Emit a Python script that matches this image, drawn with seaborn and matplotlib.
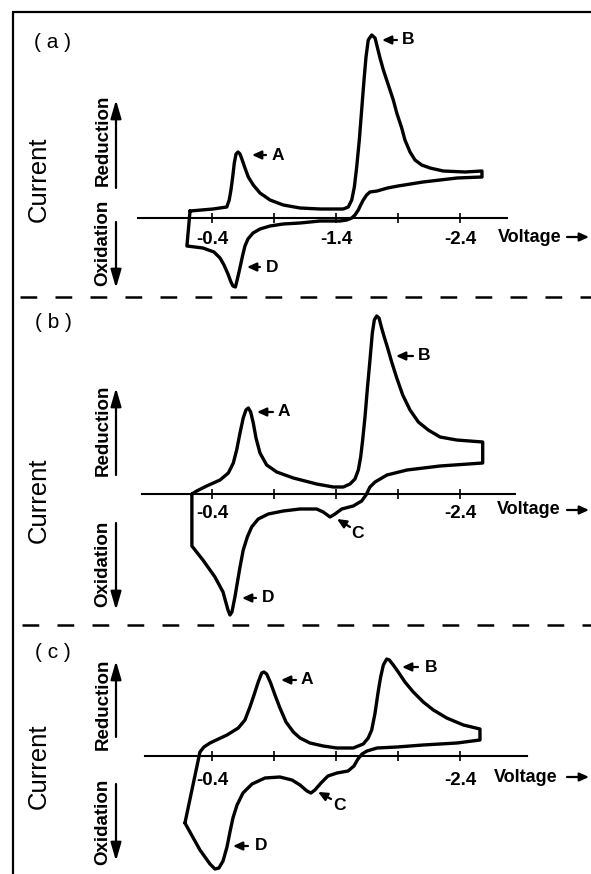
import matplotlib
matplotlib.use("Agg")
import matplotlib.pyplot as plt
import seaborn as sns
from matplotlib.transforms import Affine2D
from matplotlib.lines import Line2D
from matplotlib.text import Annotation

# ---------------- data: cyclic voltammograms (V vs. ref, arbitrary current) ----------------
# each loop: forward (reduction) scan toward negative potential, then the return scan
volt_a = [-0.223, -0.408, -0.519, -0.539, -0.553, -0.567, -0.580, -0.594, -0.610, -0.626,
          -0.644, -0.666, -0.693, -0.733, -0.787, -0.868, -0.975, -1.110, -1.271, -1.432,
          -1.459, -1.499, -1.527, -1.548, -1.567, -1.588, -1.607, -1.626, -1.642, -1.660,
          -1.688, -1.715, -1.733, -1.755, -1.782, -1.822, -1.862, -1.890, -1.930, -1.956,
          -1.997, -2.037, -2.091, -2.158, -2.265, -2.440, -2.577,
          -2.577, -2.376, -2.102, -1.900, -1.815, -1.732, -1.674, -1.647, -1.620, -1.599,
          -1.580, -1.553, -1.527, -1.487, -1.432, -1.271, -1.110, -0.973, -0.868, -0.787,
          -0.731, -0.690, -0.666, -0.650, -0.634, -0.618, -0.601, -0.589, -0.569, -0.553,
          -0.529, -0.497, -0.465, -0.416, -0.327, -0.198, -0.223]
curr_a = [0.7, 0.9, 1.1, 1.8, 2.8, 4.1, 5.5, 6.4, 6.6, 6.4,
          5.8, 5.0, 4.1, 3.3, 2.5, 1.8, 1.3, 1.0, 0.9, 0.9,
          0.9, 1.1, 1.8, 3.1, 5.1, 7.8, 10.8, 13.8, 16.1, 17.8,
          18.3, 18.0, 17.1, 16.0, 14.8, 13.3, 11.8, 10.5, 9.0, 7.8,
          6.6, 5.8, 5.3, 5.0, 4.7, 4.6, 4.7,
          4.1, 4.0, 3.6, 3.2, 3.0, 2.7, 2.6, 2.3, 1.8, 1.3,
          0.8, 0.3, -0.0, -0.2, -0.3, -0.3, -0.5, -0.6, -0.8, -1.1,
          -1.5, -2.1, -2.8, -3.6, -4.5, -5.4, -6.3, -6.9, -6.8, -6.4,
          -5.6, -4.7, -4.0, -3.4, -3.0, -2.8, 0.7]

volt_b = [-0.238, -0.277, -0.357, -0.465, -0.532, -0.572, -0.599, -0.626, -0.652, -0.674,
          -0.693, -0.712, -0.733, -0.755, -0.787, -0.841, -0.922, -1.056, -1.244, -1.378,
          -1.459, -1.513, -1.553, -1.580, -1.599, -1.615, -1.634, -1.652, -1.674, -1.693,
          -1.709, -1.728, -1.747, -1.768, -1.789, -1.814, -1.849, -1.890, -1.938, -1.997,
          -2.064, -2.144, -2.239, -2.373, -2.583,
          -2.583, -2.239, -1.973, -1.811, -1.715, -1.674, -1.642, -1.607, -1.539, -1.446,
          -1.392, -1.352, -1.297, -1.244, -1.110, -0.975, -0.854, -0.773, -0.720, -0.685,
          -0.652, -0.626, -0.604, -0.585, -0.561, -0.545, -0.529, -0.489, -0.424, -0.327,
          -0.238, -0.238]
curr_b = [0.0, 0.3, 0.8, 1.4, 2.1, 3.1, 4.4, 6.1, 7.6, 8.4,
          8.6, 8.2, 7.1, 5.6, 4.1, 2.9, 2.2, 1.6, 1.0, 0.7,
          0.7, 1.0, 1.5, 2.4, 3.7, 5.4, 7.7, 10.4, 13.4, 16.1,
          17.4, 17.8, 17.6, 16.6, 15.7, 14.7, 13.2, 11.6, 9.9, 8.4,
          7.2, 6.4, 5.7, 5.4, 5.2,
          3.1, 2.8, 2.4, 1.9, 1.2, 0.7, -0.1, -0.7, -1.2, -1.5,
          -2.0, -2.3, -1.8, -1.5, -1.5, -1.7, -2.0, -2.5, -3.3, -4.3,
          -5.6, -7.3, -8.9, -10.3, -11.8, -12.1, -11.6, -9.8, -8.3, -6.6,
          -5.2, 0.0]

volt_c = [-0.182, -0.303, -0.335, -0.384, -0.521, -0.612, -0.666, -0.706, -0.739, -0.773,
          -0.801, -0.819, -0.841, -0.873, -0.908, -0.948, -0.997, -1.056, -1.110, -1.190,
          -1.297, -1.406, -1.539, -1.620, -1.660, -1.688, -1.715, -1.741, -1.760, -1.782,
          -1.809, -1.830, -1.862, -1.902, -1.956, -2.023, -2.104, -2.185, -2.293, -2.427,
          -2.561,
          -2.561, -2.376, -2.102, -1.892, -1.731, -1.650, -1.610, -1.577, -1.545, -1.497,
          -1.408, -1.335, -1.279, -1.230, -1.198, -1.166, -1.110, -1.045, -0.948, -0.827,
          -0.723, -0.650, -0.602, -0.569, -0.545, -0.521, -0.489, -0.456, -0.424, -0.384,
          -0.303, -0.182]
curr_c = [-6.7, 0.4, 0.9, 1.3, 2.1, 2.8, 3.6, 4.9, 6.1, 7.4,
          8.3, 8.4, 8.2, 7.3, 6.1, 4.8, 3.4, 2.4, 1.8, 1.3,
          1.0, 0.8, 0.8, 1.2, 1.8, 2.6, 4.3, 6.5, 7.9, 9.1,
          9.7, 9.6, 9.1, 8.4, 7.4, 6.4, 5.4, 4.6, 3.8, 3.1,
          2.7,
          1.6, 1.3, 1.1, 0.9, 0.8, 0.5, 0.2, -0.3, -1.0, -1.5,
          -1.7, -2.0, -2.7, -3.4, -3.7, -3.5, -2.9, -2.4, -2.1, -2.2,
          -2.8, -3.7, -4.9, -6.2, -7.6, -9.1, -10.5, -11.2, -11.3, -10.8,
          -9.4, -6.7]

# voltage axis ticks
major_ticks = [-0.4, -1.4, -2.4]
minor_ticks = [-0.9, -1.9]
labels_a = ["-0.4", "-1.4", "-2.4"]
labels_bc = ["-0.4", "", "-2.4"]

panel_names = ["( a )", "( b )", "( c )"]

# ---------------- style ----------------
sns.set_style("white")
plt.rcParams["font.family"] = ["Liberation Sans", "DejaVu Sans"]
plt.rcParams["axes.unicode_minus"] = False
plt.rcParams["text.color"] = "black"

W, H = 591, 874
fig = plt.figure(figsize=(W / 100, H / 100), dpi=100)
fig.patch.set_facecolor("white")
# pixel coordinates on the sheet, origin at the top-left corner
P = Affine2D().scale(1 / W, -1 / H).translate(0, 1) + fig.transFigure

AX_L, AX_R = 130, 540
XLIM = (0.261, -3.045)
SCALE = 10.0  # pixels per current unit

panels = [
    dict(V=volt_a, I=curr_a, top=20, bottom=295, base=218, span=(-2.779, 0.197),
         labels=labels_a, pad=6.0),
    dict(V=volt_b, I=curr_b, top=300, bottom=622, base=494, span=(-2.843, 0.165),
         labels=labels_bc, pad=4.5),
    dict(V=volt_c, I=curr_c, top=630, bottom=874, base=756, span=(-2.940, 0.140),
         labels=labels_bc, pad=8.0),
]

for p in panels:
    ax = fig.add_axes([AX_L / W, 1 - p["bottom"] / H, (AX_R - AX_L) / W,
                       (p["bottom"] - p["top"]) / H])
    ax.patch.set_alpha(0)
    sns.lineplot(x=p["V"], y=p["I"], sort=False, estimator=None, color="black",
                 linewidth=2.4, ax=ax, solid_joinstyle="round", solid_capstyle="round")
    ax.set_xlim(*XLIM)
    ax.set_ylim((p["base"] - p["bottom"]) / SCALE, (p["base"] - p["top"]) / SCALE)
    for side in ("top", "left", "right"):
        ax.spines[side].set_visible(False)
    sp = ax.spines["bottom"]
    sp.set_visible(True)
    sp.set_position(("data", 0))
    sp.set_bounds(*p["span"])
    sp.set_linewidth(1.5)
    sp.set_color("black")
    ax.set_xticks(major_ticks)
    ax.set_xticklabels(p["labels"])
    ax.set_xticks(minor_ticks, minor=True)
    ax.tick_params(axis="x", which="both", bottom=True, direction="inout", length=7,
                   width=1.2, colors="black", pad=p["pad"], labelsize=13.5)
    for t in ax.get_xticklabels():
        t.set_fontweight("bold")
    ax.set_yticks([])
    ax.set_xlabel("")
    ax.set_ylabel("")

# ---------------- sheet decorations ----------------
fig.add_artist(Line2D([13, W], [12, 12], transform=P, color="black", lw=1.6))
fig.add_artist(Line2D([13, 13], [12, H], transform=P, color="black", lw=1.6))
for yy, x0 in ((297, 20), (625, 22)):
    fig.add_artist(Line2D([x0, W], [yy, yy], transform=P, color="black", lw=1.8,
                          dashes=(6.7, 7.3)))

head_small = dict(arrowstyle="-|>,head_length=0.55,head_width=0.25", color="black",
                  lw=1.6, shrinkA=0, shrinkB=0)
head_big = dict(arrowstyle="-|>,head_length=0.55,head_width=0.16", color="black",
                lw=1.6, shrinkA=0, shrinkB=0, mutation_scale=20)

# per-panel text: panel tag, side labels, axis title
tag_y = [43, 323, 652]
current_y = [179, 500, 766]
red_y = [140, 430, 704]
red_arrow = [(188, 100), (475, 388), (737, 661)]
ox_y = [243, 564, 822]
ox_arrow = [(222, 288), (523, 610), (784, 861)]
volt_y = [237, 510, 777]
volt_x = [498, 497, 494]

for i in range(3):
    fig.text(53, tag_y[i], panel_names[i], transform=P, fontsize=15, ha="center",
             va="center")
    fig.text(39, current_y[i], "Current", transform=P, fontsize=18.5, rotation=90,
             ha="center", va="center")
    fig.text(103, red_y[i], "Reduction", transform=P, fontsize=13.5, fontweight="bold",
             rotation=90, ha="center", va="center")
    fig.text(103, ox_y[i], "Oxidation", transform=P, fontsize=13.5, fontweight="bold",
             rotation=90, ha="center", va="center")
    fig.add_artist(Annotation("", xy=(116, red_arrow[i][1]), xytext=(116, red_arrow[i][0]),
                              xycoords=P, textcoords=P, arrowprops=head_big))
    fig.add_artist(Annotation("", xy=(116, ox_arrow[i][1]), xytext=(116, ox_arrow[i][0]),
                              xycoords=P, textcoords=P, arrowprops=head_big))
    fig.text(volt_x[i], volt_y[i], "Voltage", transform=P, fontsize=13,
             fontweight="bold", ha="left", va="center")
    fig.add_artist(Annotation("", xy=(589, volt_y[i]), xytext=(567, volt_y[i]),
                              xycoords=P, textcoords=P, arrowprops=head_small))

# peak labels: (label, arrow tip, arrow tail, text centre)
peak_marks = [
    ("A", (252, 155), (266, 155), (278, 155)),
    ("D", (247, 267), (260, 267), (272, 267)),
    ("B", (382, 40), (397, 40), (408, 40)),
    ("A", (257, 412), (273, 412), (284, 412)),
    ("B", (396, 356), (413, 356), (424, 356)),
    ("C", (337, 519), (350, 527), (358, 533)),
    ("D", (242, 598), (256, 598), (268, 598)),
    ("A", (281, 680), (296, 680), (307, 680)),
    ("B", (402, 667), (418, 667), (431, 667)),
    ("C", (318, 792), (331, 799), (339, 805)),
    ("D", (233, 846), (248, 846), (261, 846)),
]
for name, tip, tail, txt in peak_marks:
    fig.add_artist(Annotation("", xy=tip, xytext=tail, xycoords=P, textcoords=P,
                              arrowprops=head_small))
    fig.text(txt[0], txt[1], name, transform=P, fontsize=12.5, fontweight="bold",
             ha="center", va="center")

fig.savefig("out.png", dpi=100, facecolor="white")
